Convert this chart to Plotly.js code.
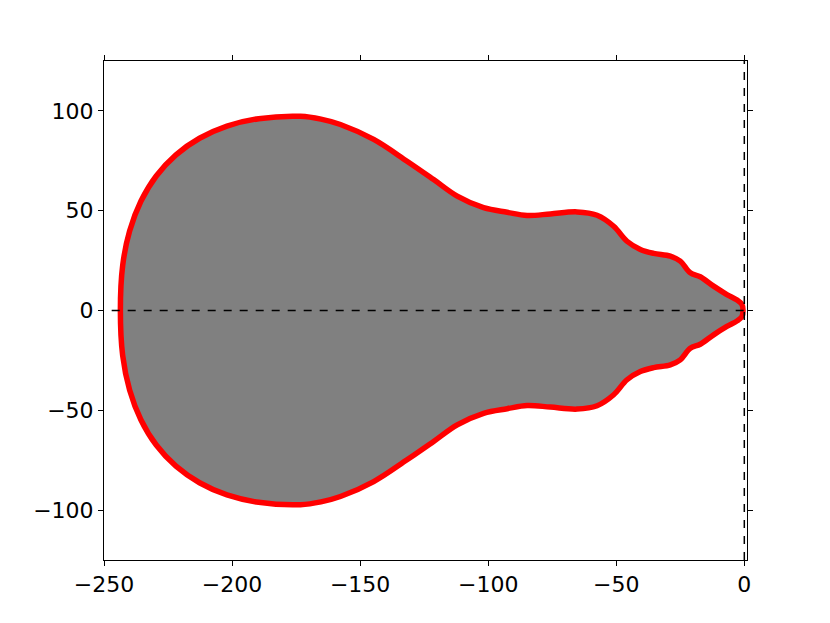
<!DOCTYPE html>
<html>
<head>
<meta charset="utf-8">
<script src="https://cdn.plot.ly/plotly-3.0.1.min.js"></script>
<style>html,body{margin:0;padding:0;background:#fff;}#chart{width:830px;height:623px;}</style>
</head>
<body>
<div id="chart"></div>
<script>
// Upper boundary of the region (left to right)
const upperX = [-243.6, -242.7, -240.0, -235.6, -229.6, -221.9, -212.7, -202.0, -189.6, -173.3, -165.3, -157.7, -144.7, -131.7, -121.3, -112.1, -101.8, -92.6, -84.8, -75.7, -65.3, -57.5, -51.0, -45.8, -40.6, -35.4, -28.9, -25.0, -21.1, -17.2, -12.0, -6.8, -2.8, -0.9, -0.5];
const upperY = [0, 22.6, 39.8, 54.7, 67.4, 78.0, 86.3, 92.4, 96.1, 97.3, 95.9, 93.2, 85.7, 74.8, 65.6, 57.3, 51.5, 49.2, 47.6, 48.4, 49.4, 47.7, 42.2, 34.7, 30.6, 28.6, 27.2, 24.7, 18.9, 16.9, 12.2, 8.0, 5.2, 3.0, 0];
// Lower boundary of the region (right to left)
const lowerX = [-0.9, -2.8, -6.8, -12.0, -17.2, -21.1, -25.0, -28.9, -35.4, -40.6, -45.8, -51.0, -57.5, -65.3, -75.7, -84.8, -92.6, -101.8, -112.1, -121.3, -131.7, -144.7, -157.7, -165.3, -173.3, -189.6, -202.0, -212.7, -221.9, -229.6, -235.6, -240.0, -242.7, -243.6];
const lowerY = [-3.0, -5.2, -8.0, -12.2, -16.9, -18.9, -24.7, -27.2, -28.6, -30.6, -34.7, -42.2, -47.7, -49.4, -48.4, -47.6, -49.2, -51.5, -57.3, -65.6, -74.8, -85.7, -93.2, -95.9, -97.3, -96.1, -92.4, -86.3, -78.0, -67.4, -54.7, -39.8, -22.6, 0];
// Reference lines
const hLineX = [-247, 0];
const hLineY = [0, 0];
const vLineX = [0, 0];
const vLineY = [-125, 125];
const xTicks = [-250, -200, -150, -100, -50, 0];
const yTicks = [-100, -50, 0, 50, 100];

const regionX = upperX.concat(lowerX);
const regionY = upperY.concat(lowerY);

const traces = [
  {x: regionX, y: regionY, type: 'scatter', mode: 'lines', fill: 'toself',
   fillcolor: '#808080', line: {color: '#ff0000', width: 5.5, shape: 'spline', smoothing: 1},
   hoverinfo: 'skip'},
  {x: hLineX, y: hLineY, type: 'scatter', mode: 'lines',
   line: {color: '#000000', width: 1.5, dash: '8px,8px'}, hoverinfo: 'skip'},
  {x: vLineX, y: vLineY, type: 'scatter', mode: 'lines',
   line: {color: '#000000', width: 1.5, dash: '8px,8px'}, hoverinfo: 'skip'}
];

const axisCommon = {
  showgrid: false, zeroline: false, showline: true, linecolor: '#000', linewidth: 1,
  mirror: 'ticks', ticks: 'outside', ticklen: 5, tickwidth: 1, tickcolor: '#000',
  tickfont: {family: 'DejaVu Sans', size: 22, color: '#000'}
};

const fmt = v => v < 0 ? '\u2212' + Math.abs(v) : String(v);

const layout = {
  width: 830, height: 623,
  margin: {l: 103.5, r: 83.3, t: 61, b: 63},
  paper_bgcolor: '#fff', plot_bgcolor: '#fff',
  showlegend: false,
  xaxis: Object.assign({}, axisCommon, {range: [-250, 1.05], tickvals: xTicks, ticktext: xTicks.map(fmt)}),
  yaxis: Object.assign({}, axisCommon, {range: [-125, 125], tickvals: yTicks, ticktext: yTicks.map(fmt)})
};

Plotly.newPlot('chart', traces, layout, {staticPlot: true});
</script>
</body>
</html>
